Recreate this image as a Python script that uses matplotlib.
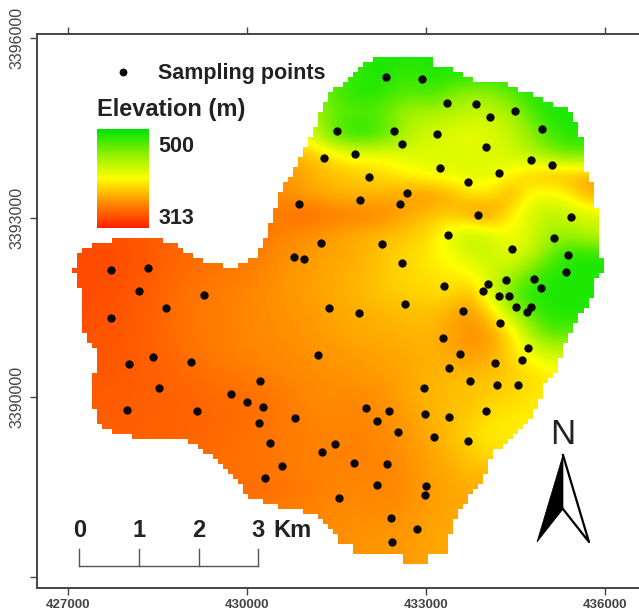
import matplotlib
matplotlib.use('Agg')
import matplotlib.pyplot as plt
import numpy as np
from matplotlib.colors import LinearSegmentedColormap
from matplotlib.path import Path

plt.rcParams['font.family'] = ['Liberation Sans', 'DejaVu Sans']

# sampling points, UTM metres
pts_e = [431510,431290,430870,431240,430790,430960,431370,427720,428340,428190,429280,428640,427720,
         432330,432930,433350,433840,434070,434490,434940,432460,433180,432600,434010,431810,434760,
         435110,433230,434220,432050,433700,432680,431890,432560,433870,435430,433370,435150,432260,
         434440,435380,432600,435350,434340,434810,434040,434930,433300,433960,434220,434390,434510,
         434760,434690,432650,431880,433620,434240,433290,434710,433570,431190,434160,434610,433390,
         433740,434190,434540,432970,431990,432380,432980,433390,434010,432180,432530,433130,433700,
         431480,431260,431790,432350,432180,433000,432980,431540,432410,432850,432430,428020,428420,
         429060,428530,427990,429160,429730,430000,430220,430270,430200,430800,430390,430590,430300]
pts_n = [3394450,3393990,3393230,3392570,3392340,3392310,3391490,3392120,3392160,3391770,3391710,3391490,3391320,
         3395350,3395320,3394910,3394900,3394680,3394780,3394480,3394450,3394400,3394230,3394180,3394060,3393960,
         3393880,3393830,3393740,3393680,3393590,3393410,3393290,3393230,3393040,3393010,3392710,3392660,3392560,
         3392470,3392370,3392240,3392090,3391960,3391970,3391890,3391820,3391860,3391770,3391690,3391690,3391510,
         3391510,3391420,3391560,3391400,3391440,3391240,3390990,3390820,3390720,3390700,3390570,3390620,3390490,
         3390270,3390200,3390200,3390150,3389820,3389770,3389720,3389670,3389770,3389600,3389420,3389330,3389270,
         3389220,3389080,3388900,3388880,3388530,3388510,3388360,3388310,3387980,3387800,3387580,3390550,3390670,
         3390590,3390150,3389780,3389770,3390050,3389920,3390270,3389830,3389570,3389650,3389230,3388850,3388650]

# study area outline
area_e = [432150,433120,433120,433570,433700,434070,434490,434580,434740,434990,435330,435500,435610,435610,
          435700,435780,435780,435880,435880,435970,435970,435850,435850,435680,435610,435360,435200,434990,
          434860,434690,434360,434120,434040,433700,433450,433350,433270,433020,433020,432580,432580,431780,
          431780,431610,431440,431140,430770,430440,430000,429830,429580,429380,429050,428990,428120,428090,
          427750,427540,427450,427420,427490,427540,427340,427230,427230,427150,427150,427070,427070,427150,
          427150,427420,427750,428590,428930,428960,429260,429600,429720,429830,430180,430340,430600,430770,
          430970,431060,431360,431610,431940]
area_n = [3395650,3395650,3395500,3395470,3395330,3395270,3395210,3395130,3395100,3394960,3394830,3394680,3394350,3393910,
          3393740,3393580,3393180,3393130,3392340,3392290,3392070,3391990,3391790,3391450,3391420,3390900,3390450,3390200,
          3389830,3389570,3389230,3389080,3388730,3388280,3387900,3387360,3387330,3387330,3387230,3387230,3387330,3387330,
          3387490,3387530,3387730,3388060,3388110,3388200,3388330,3388610,3388900,3389030,3389230,3389300,3389300,3389370,
          3389400,3389580,3389780,3390240,3390650,3390750,3390950,3391200,3391840,3391870,3392040,3392040,3392120,3392160,
          3392410,3392540,3392630,3392630,3392510,3392410,3392290,3392210,3392120,3392210,3392340,3392790,3393510,3393740,
          3394180,3394350,3395050,3395250,3395550]

# elevation (m), north to south, west to east
elev = np.array([
 [450,450,450,450,450,450,450,450,450,450,450,450,450,470,480,490,490,490,490,490,490,490,490,490,490,490,490,490],
 [450,450,450,450,450,450,450,450,450,450,450,450,460,475,480,490,490,480,490,490,490,490,490,490,490,490,490,490],
 [440,440,440,440,440,440,440,440,440,440,440,440,450,470,485,490,480,470,480,460,450,450,470,490,490,490,490,490],
 [430,430,430,430,430,430,430,430,430,430,430,430,440,460,470,470,460,440,440,435,430,430,440,470,490,490,490,490],
 [400,400,400,400,400,400,400,400,400,400,400,410,420,470,490,490,470,435,425,420,415,420,430,450,480,490,490,490],
 [370,370,370,370,370,370,370,370,370,370,370,375,380,395,410,410,415,420,420,420,420,420,425,440,455,470,470,470],
 [360,360,360,360,360,360,360,360,360,360,360,365,375,380,385,388,395,405,415,420,420,420,405,385,372,374,372,372],
 [355,355,355,355,355,355,355,355,355,355,358,362,370,375,378,380,375,366,362,372,395,398,370,408,415,400,368,368],
 [345,345,345,345,345,345,345,345,345,350,355,348,344,350,354,352,360,372,382,385,364,358,398,425,435,430,425,425],
 [332,332,332,335,338,342,345,345,345,350,350,358,362,368,372,378,382,385,392,420,438,425,410,420,445,445,430,430],
 [331,331,332,334,337,342,346,346,350,352,358,362,365,370,372,378,385,392,400,410,425,430,415,430,465,490,490,490],
 [330,331,332,335,339,344,346,350,352,355,358,365,368,372,375,380,388,392,395,400,405,425,440,470,490,490,490,490],
 [330,332,334,336,340,345,350,352,355,358,362,365,368,372,376,380,385,388,392,392,378,420,470,490,490,490,490,490],
 [331,333,335,337,341,345,350,352,355,358,360,363,365,370,372,375,378,380,380,372,362,385,430,470,490,490,490,490],
 [333,335,336,338,341,345,350,352,355,358,360,362,364,368,372,372,374,376,378,370,362,365,390,440,470,470,460,460],
 [336,336,337,338,341,343,348,352,354,356,358,360,362,364,366,368,370,372,375,372,365,372,390,410,425,425,425,425],
 [337,337,337,339,341,342,345,348,350,352,355,358,360,362,364,366,368,372,376,378,380,382,385,392,400,400,400,400],
 [338,338,338,339,341,341,342,345,346,348,350,354,358,360,358,360,364,372,378,380,382,386,390,395,400,400,400,400],
 [339,339,339,340,341,341,342,343,345,346,350,352,356,358,356,358,362,368,375,380,385,392,398,400,400,400,400,400],
 [340,340,340,340,341,341,342,344,346,348,350,352,355,356,355,357,360,366,372,380,392,400,400,400,400,400,400,400],
 [345,345,345,345,345,345,345,345,347,348,350,352,354,355,355,356,358,364,370,376,385,392,392,392,392,392,392,392],
 [348,348,348,348,348,348,348,348,348,349,350,352,354,356,356,356,356,362,368,372,378,378,378,378,378,378,378,378],
 [345,345,345,345,345,345,345,345,345,345,346,350,353,356,358,358,358,362,366,370,372,372,372,372,372,372,372,372],
 [355,355,355,355,355,355,355,355,355,355,355,355,356,358,360,360,360,364,368,372,372,372,372,372,372,372,372,372],
 [358,358,358,358,358,358,358,358,358,358,358,358,358,358,362,364,364,366,370,372,372,372,372,372,372,372,372,372],
 [358,358,358,358,358,358,358,358,358,358,358,358,358,358,362,364,364,366,370,372,372,372,372,372,372,372,372,372],
])
elev_min = 313
elev_max = 500

x_ticks = [427000, 430000, 433000, 436000]
y_ticks = [3387000, 3390000, 3393000, 3396000]
y_labels = ['', '3390000', '3393000', '3396000']
scale_km = [0, 1, 2, 3]

cm = LinearSegmentedColormap.from_list('elev', [(0, '#ff2200'), (0.27, '#ff9500'), (0.5, '#ffff00'),
                                                (0.75, '#90f000'), (1, '#00e600')])

fig = plt.figure(figsize=(6.39, 6.11), dpi=100)
ax = fig.add_axes([37/639, 23/611, 602/639, 554/611])

raster_box = [426866, 436252, 3387194, 3395883]
ax.imshow(elev, cmap=cm, vmin=elev_min, vmax=elev_max, extent=raster_box, aspect='auto',
          interpolation='bicubic', zorder=1)

# white out everything off the study area, on a coarse grid for the stepped edge
cell = 84
ge = np.arange(426400, 436700, cell)
gn = np.arange(3386700, 3396200, cell)
ee, nn = np.meshgrid(ge + cell/2, gn + cell/2)
inside = Path(np.column_stack([area_e, area_n])).contains_points(np.column_stack([ee.ravel(), nn.ravel()]))
rgba = np.zeros(ee.shape + (4,))
rgba[~inside.reshape(ee.shape)] = (1, 1, 1, 1)
ax.imshow(rgba, origin='lower', extent=[ge[0], ge[-1]+cell, gn[0], gn[-1]+cell], aspect='auto',
          interpolation='nearest', zorder=2)

ax.scatter(pts_e, pts_n, s=36, c='#0c0808', linewidths=0, zorder=3)

# legend
ax.scatter([427922], [3395432], s=32, c='#0c0808', linewidths=0, zorder=4)
ax.text(428510, 3395410, 'Sampling points', fontsize=15.5, fontweight='bold', color='#222222', va='center', zorder=4)
ax.text(427486, 3394810, 'Elevation (m)', fontsize=17, fontweight='bold', color='#222222', va='center', zorder=4)
ramp = np.linspace(1, 0, 100).reshape(-1, 1)
ax.imshow(ramp, cmap=cm, extent=[427486, 428341, 3392825, 3394479], aspect='auto', zorder=4)
ax.text(428510, 3394195, '500', fontsize=15.5, fontweight='bold', color='#222222', va='center', zorder=4)
ax.text(428510, 3392992, '313', fontsize=15.5, fontweight='bold', color='#222222', va='center', zorder=4)

# scale bar
bar_x = [427190 + k*1000 for k in scale_km]
ax.plot([bar_x[0], bar_x[-1]], [3387180, 3387180], color='#555555', lw=1, zorder=4)
for k, x in zip(scale_km, bar_x):
    ax.plot([x, x], [3387180, 3387460], color='#555555', lw=1, zorder=4)
    ax.text(x, 3387770, str(k), fontsize=17, fontweight='bold', color='#222222', ha='center', va='center', zorder=4)
ax.text(430300 + 150, 3387770, 'Km', fontsize=17, fontweight='bold', color='#222222', va='center', zorder=4)

# north arrow
ax.fill([435296, 434860, 435296], [3389032, 3387578, 3388130], color='black', lw=0.5, zorder=4)
ax.plot([435296, 435732, 435296], [3389032, 3387578, 3388130], color='black', lw=1.6, zorder=4)
ax.text(435296, 3389380, 'N', fontsize=25, color='#222222', ha='center', va='center', zorder=4)

ax.set_xlim(426480, 436570)
ax.set_ylim(3386810, 3396067)
ax.set_xticks(x_ticks)
ax.set_xticklabels([str(v) for v in x_ticks], fontsize=9.5, fontweight='bold', color='#444444')
ax.set_yticks(y_ticks)
ax.set_yticklabels(y_labels, fontsize=11.5, color='#444444', rotation=90, va='center')
ax.tick_params(top=True, length=5, width=1, color='#444444', pad=5)
ax.tick_params(axis='x', pad=3)
ax.tick_params(axis='y', pad=4)
for side in ['left', 'top', 'bottom']:
    ax.spines[side].set_color('#444444')
    ax.spines[side].set_linewidth(1.4)
ax.spines['right'].set_visible(False)

fig.savefig('out.png', dpi=100)
